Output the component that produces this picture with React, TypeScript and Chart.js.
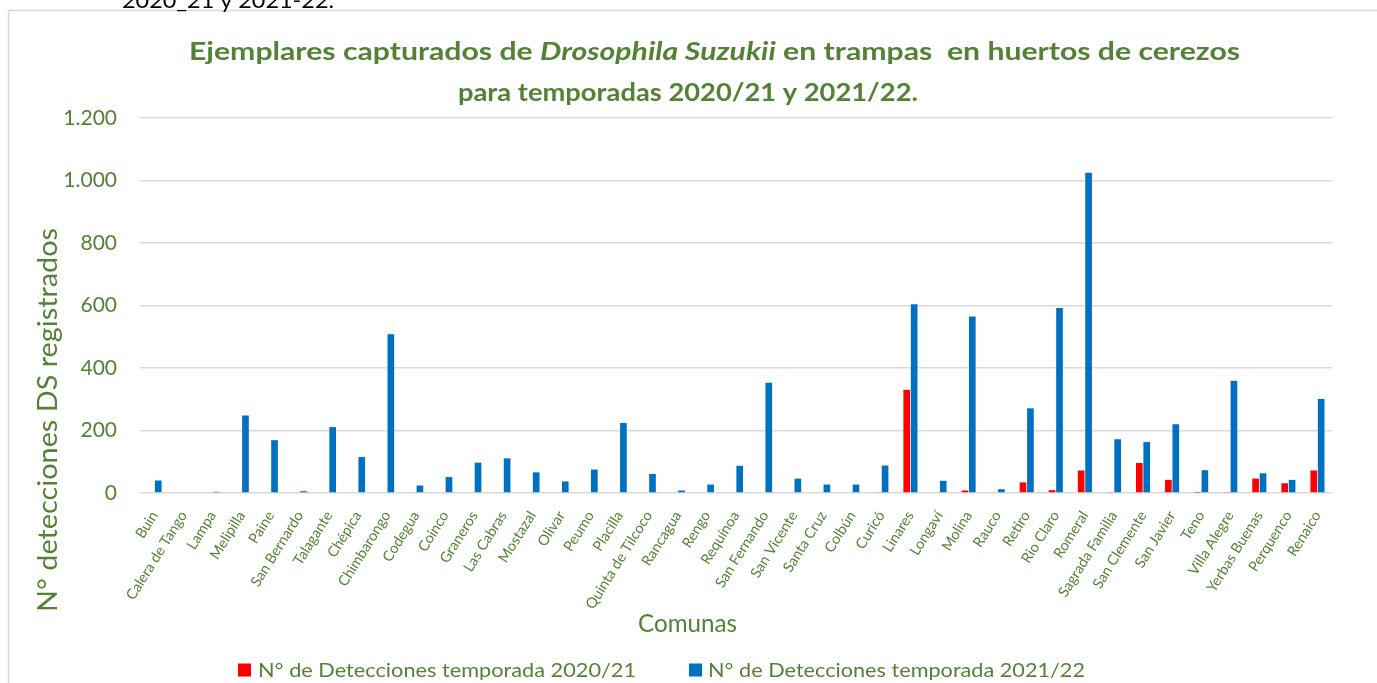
import React, { useEffect, useRef } from "react";
import { Chart, registerables } from "chart.js";

Chart.register(...registerables);

// ---------- data ----------
const comunas = [
  "Buin", "Calera de Tango", "Lampa", "Melipilla", "Paine", "San Bernardo", "Talagante",
  "Chépica", "Chimbarongo", "Codegua", "Coinco", "Graneros", "Las Cabras", "Mostazal",
  "Olivar", "Peumo", "Placilla", "Quinta de Tilcoco", "Rancagua", "Rengo", "Requínoa",
  "San Fernando", "San Vicente", "Santa Cruz", "Colbún", "Curicó", "Linares", "Longaví",
  "Molina", "Rauco", "Retiro", "Rio Claro", "Romeral", "Sagrada Familia", "San Clemente",
  "San Javier", "Teno", "Villa Alegre", "Yerbas Buenas", "Perquenco", "Renaico",
];

const temporada2020_21 = [
  0, 0, 0, 0, 0, 0, 0,
  0, 0, 0, 0, 0, 0, 0,
  0, 0, 0, 0, 0, 0, 0,
  0, 0, 0, 0, 2, 330, 0,
  8, 0, 34, 9, 72, 3, 96,
  42, 1, 3, 46, 31, 72,
];

const temporada2021_22 = [
  40, 0, 4, 248, 169, 6, 211,
  115, 508, 24, 51, 97, 111, 66,
  37, 75, 224, 61, 8, 27, 87,
  353, 46, 27, 27, 88, 604, 39,
  565, 12, 271, 592, 1025, 172, 163,
  220, 73, 359, 63, 42, 301,
];

const seriesLabels = [
  "N° de Detecciones temporada 2020/21",
  "N° de Detecciones temporada 2021/22",
];
const seriesColors = ["#FF0000", "#0070C0"];

const yMin = 0;
const yMax = 1200;
const yStep = 200;

const titleLine1 = [
  { text: "Ejemplares capturados de ", italic: false },
  { text: "Drosophila Suzukii", italic: true },
  { text: " en trampas  en huertos de cerezos", italic: false },
];
const titleLine2 = "para temporadas 2020/21 y 2021/22.";
const yTitle = "N° detecciones DS registrados";
const xTitle = "Comunas";
const headerFragment = "2020_21 y 2021-22.";

// ---------- styles ----------
const GREEN = "#548235";
const TITLE_GREEN = "#538135";
const FONT = "Lato";
const GRID = "#d9d9d9";

type Seg = { text: string; italic: boolean };

function drawFitted(
  ctx: CanvasRenderingContext2D,
  segs: Seg[],
  x: number,
  y: number,
  targetW: number,
  size: number,
  weight: string,
  color: string,
  angle = 0
) {
  ctx.save();
  ctx.translate(x, y);
  if (angle) ctx.rotate(angle);
  const fonts = segs.map((s) => `${s.italic ? "italic " : ""}${weight} ${size}px ${FONT}`);
  const widths = segs.map((s, i) => {
    ctx.font = fonts[i];
    return ctx.measureText(s.text).width;
  });
  const total = widths.reduce((a, b) => a + b, 0);
  ctx.scale(targetW / total, 1);
  ctx.fillStyle = color;
  ctx.textAlign = "left";
  ctx.textBaseline = "alphabetic";
  let cx = 0;
  segs.forEach((s, i) => {
    ctx.font = fonts[i];
    ctx.fillText(s.text, cx, 0);
    cx += widths[i];
  });
  ctx.restore();
}

function fmtThousands(v: number): string {
  if (v >= 1000) {
    return `${Math.floor(v / 1000)}.${String(v % 1000).padStart(3, "0")}`;
  }
  return String(v);
}

const decorPlugin = {
  id: "decor",
  beforeDraw(chart: any) {
    const ctx: CanvasRenderingContext2D = chart.ctx;
    ctx.save();
    ctx.fillStyle = "#ffffff";
    ctx.fillRect(0, 0, chart.width, chart.height);
    // frame
    ctx.strokeStyle = GRID;
    ctx.lineWidth = 1.5;
    ctx.beginPath();
    ctx.moveTo(8.5, chart.height);
    ctx.lineTo(8.5, 10.5);
    ctx.lineTo(chart.width, 10.5);
    ctx.stroke();
    ctx.restore();
    // cut-off text above the chart
    drawFitted(ctx, [{ text: headerFragment, italic: false }], 122, 8, 212, 22, "normal", "#000000");
  },
  afterDraw(chart: any) {
    const ctx: CanvasRenderingContext2D = chart.ctx;
    // title
    drawFitted(ctx, titleLine1, 189, 59.5, 1051, 24.5, "bold", TITLE_GREEN);
    drawFitted(ctx, [{ text: titleLine2, italic: false }], 458, 101, 460, 24.5, "bold", TITLE_GREEN);
    // y title
    drawFitted(ctx, [{ text: yTitle, italic: false }], 57, 612, 384, 26, "normal", GREEN, -Math.PI / 2);
    // x title
    drawFitted(ctx, [{ text: xTitle, italic: false }], 638, 632, 99, 25, "normal", GREEN);
    // legend
    const boxes = [238, 689];
    const textX = [258, 708];
    const textW = [378, 377];
    chart.data.datasets.forEach((ds: any, i: number) => {
      ctx.save();
      ctx.fillStyle = ds.backgroundColor;
      ctx.fillRect(boxes[i], 663.5, 13, 13);
      ctx.restore();
      drawFitted(ctx, [{ text: ds.label, italic: false }], textX[i], 677, textW[i], 20, "normal", GREEN);
    });
  },
};

export default function App() {
  const canvasRef = useRef<HTMLCanvasElement | null>(null);

  useEffect(() => {
    const canvas = canvasRef.current;
    if (!canvas) return;
    const chart = new Chart(canvas, {
      type: "bar",
      data: {
        labels: comunas,
        datasets: [
          {
            label: seriesLabels[0],
            data: temporada2020_21,
            backgroundColor: seriesColors[0],
            borderWidth: 0,
            categoryPercentage: 0.51,
            barPercentage: 0.9,
          },
          {
            label: seriesLabels[1],
            data: temporada2021_22,
            backgroundColor: seriesColors[1],
            borderWidth: 0,
            categoryPercentage: 0.51,
            barPercentage: 0.9,
          },
        ],
      },
      options: {
        responsive: false,
        maintainAspectRatio: false,
        animation: false,
        devicePixelRatio: 1,
        layout: { padding: { left: 0, right: 45, top: 118, bottom: 60 } },
        plugins: {
          legend: { display: false },
          title: { display: false },
          tooltip: { enabled: false },
        },
        scales: {
          x: {
            grid: { display: false },
            border: { display: false },
            ticks: {
              color: GREEN,
              font: { family: FONT, size: 14.5 },
              minRotation: 58,
              maxRotation: 58,
              autoSkip: false,
              padding: 7,
            },
            afterFit: (s: any) => {
              s.height = 130;
            },
          },
          y: {
            min: yMin,
            max: yMax,
            grid: { color: GRID, lineWidth: 1.5, drawTicks: false },
            border: { display: false },
            ticks: {
              stepSize: yStep,
              color: GREEN,
              font: { family: FONT, size: 21 },
              padding: 23,
              callback: (v: any) => fmtThousands(Number(v)),
            },
            afterFit: (s: any) => {
              s.width = 140;
            },
          },
        },
      },
      plugins: [decorPlugin],
    });
    return () => chart.destroy();
  }, []);

  return (
    <div style={{ position: "fixed", left: 0, top: 0, width: 1377, height: 683, background: "#fff" }}>
      <canvas ref={canvasRef} width={1377} height={683} style={{ display: "block" }} />
    </div>
  );
}
